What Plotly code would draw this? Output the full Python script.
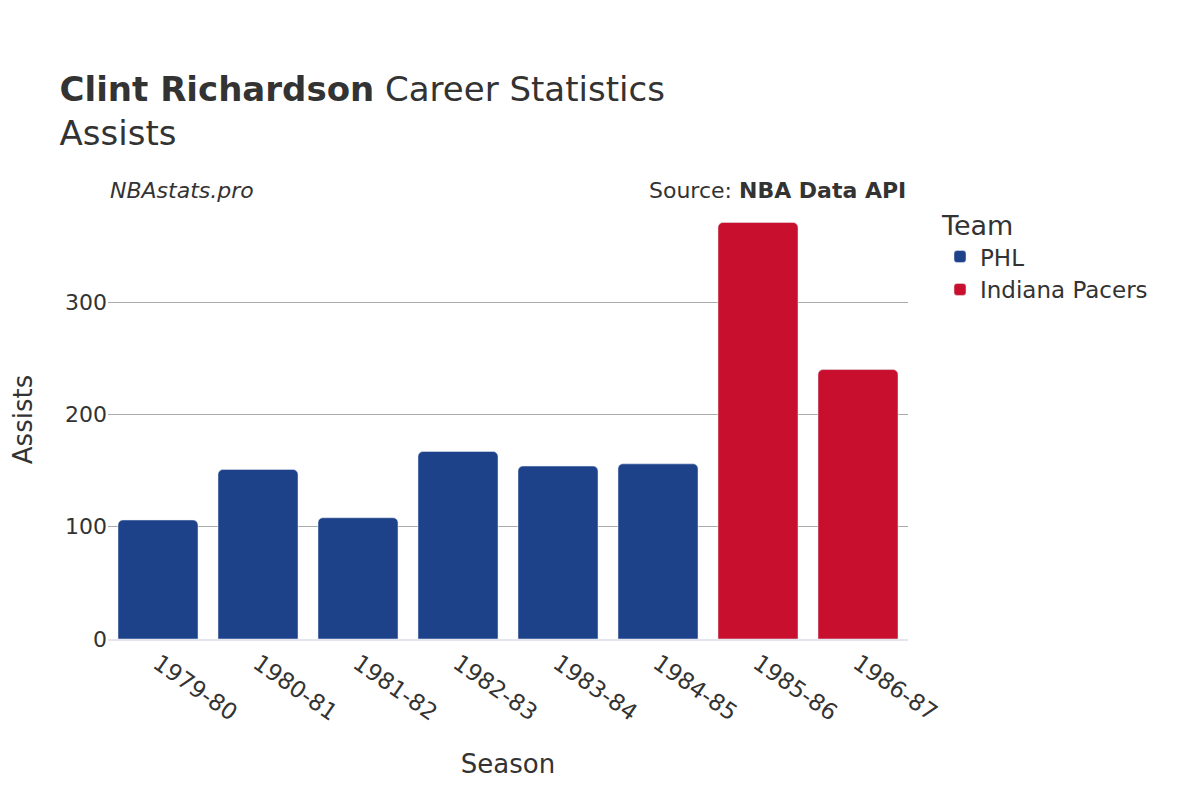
import plotly.graph_objects as go

seasons = ["1979-80", "1980-81", "1981-82", "1982-83", "1983-84", "1984-85", "1985-86", "1986-87"]
teams = ["PHL", "PHL", "PHL", "PHL", "PHL", "PHL", "Indiana Pacers", "Indiana Pacers"]
assists = [106, 151, 108, 167, 154, 156, 371, 240]
team_colors = {"PHL": "#1d428a", "Indiana Pacers": "#c8102e"}

fig = go.Figure()
for team in ["PHL", "Indiana Pacers"]:
    xs = [s for s, t in zip(seasons, teams) if t == team]
    ys = [a for a, t in zip(assists, teams) if t == team]
    fig.add_trace(go.Bar(x=xs, y=ys, name=team, marker_color=team_colors[team],
                         marker_cornerradius=5))

fig.update_layout(
    width=1200, height=800,
    font=dict(family="DejaVu Sans", size=22, color="#333"),
    plot_bgcolor="white", paper_bgcolor="white",
    margin=dict(l=100, r=300, t=192, b=169),
    title=dict(text="<b>Clint Richardson</b> Career Statistics<br>Assists",
               x=0.043, xanchor="left", y=0.884, yanchor="top", font=dict(size=34)),
    legend=dict(title=dict(text="Team", font=dict(size=27)), x=1.04, y=1.0,
                font=dict(size=23), tracegroupgap=20),
    bargap=0.2,
    xaxis=dict(title=dict(text="Season", font=dict(size=26), standoff=30), tickangle=35,
               tickfont=dict(size=23),
               categoryorder="array", categoryarray=seasons, showline=True,
               linecolor="#e5e5ee", linewidth=2, automargin=False),
    yaxis=dict(title=dict(text="Assists", font=dict(size=26), standoff=30), gridcolor="#aaa",
               tickvals=[0, 100, 200, 300], zeroline=False, range=[0, 391],
               automargin=False),
    annotations=[
        dict(text="<i>NBAstats.pro</i>", xref="paper", yref="paper", x=0.0, y=1.055,
             xanchor="left", showarrow=False, font=dict(size=22)),
        dict(text="Source: <b>NBA Data API</b>", xref="paper", yref="paper", x=1.0, y=1.055,
             xanchor="right", showarrow=False, font=dict(size=22)),
    ],
)
fig.write_html("out.html")
